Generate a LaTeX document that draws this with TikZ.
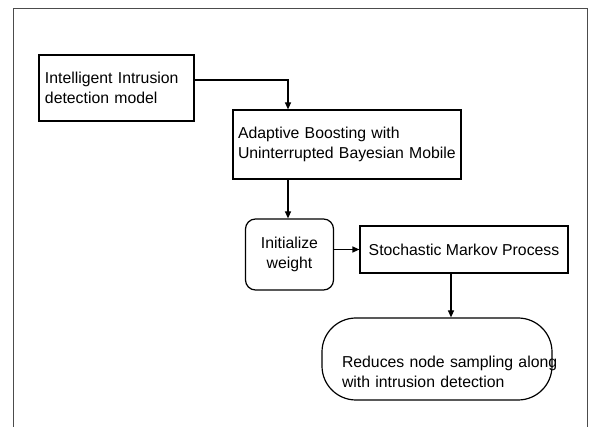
\documentclass[tikz,border=0pt]{standalone}
\usepackage{fontspec}
\setmainfont{Liberation Sans}
\usetikzlibrary{arrows.meta}
\begin{document}
\begin{tikzpicture}[x=1pt,y=-1pt,
  every node/.style={font=\fontsize{15.8}{19.5}\selectfont},
  blk/.style={draw, line width=1.2pt, inner sep=0pt},
  arr/.style={line width=1.2pt, -{Triangle[length=7pt,width=6pt]}},
]
\useasboundingbox (0,0) rectangle (592,427);
% open frame around the flow chart
\draw[gray!60!black, line width=0.8pt] (13,427) -- (13,8) -- (587,8) -- (587,427);

% blocks
\node[blk, minimum width=155, minimum height=66, text width=143, align=left]
  (model) at (116.5,88) {Intelligent Intrusion\\detection model};
\node[blk, minimum width=228, minimum height=69, text width=218, align=left]
  (boost) at (347,144.5) {Adaptive Boosting with\\Uninterrupted Bayesian Mobile};
\node[blk, rounded corners=10pt, minimum width=88, minimum height=71, align=center]
  (init) at (289.5,254.5) {Initialize\\weight};
\node[blk, minimum width=208, minimum height=47]
  (markov) at (464,249.5) {Stochastic Markov Process};
\node[blk, rounded corners=34pt, minimum width=230, minimum height=82, text width=190, align=left]
  (reduce) at (437,359)
  {\rule{0pt}{37pt}\makebox[190pt][l]{Reduces node sampling along}\\with intrusion detection};

% attachment points of the connectors
\coordinate (boostIn)  at ([xshift=-59pt]boost.north);
\coordinate (boostOut) at ([xshift=-59pt]boost.south);
\coordinate (markovOut) at ([xshift=-13pt]markov.south);

% connectors
\draw[arr] ([yshift=8pt]model.east) -| (boostIn);
\draw[arr] (boostOut) -- (init.north -| boostOut);
\draw[arr] (markov.west -| init.east) -- (markov.west);
\draw[arr] (markovOut) -- (reduce.north -| markovOut);
\end{tikzpicture}
\end{document}
